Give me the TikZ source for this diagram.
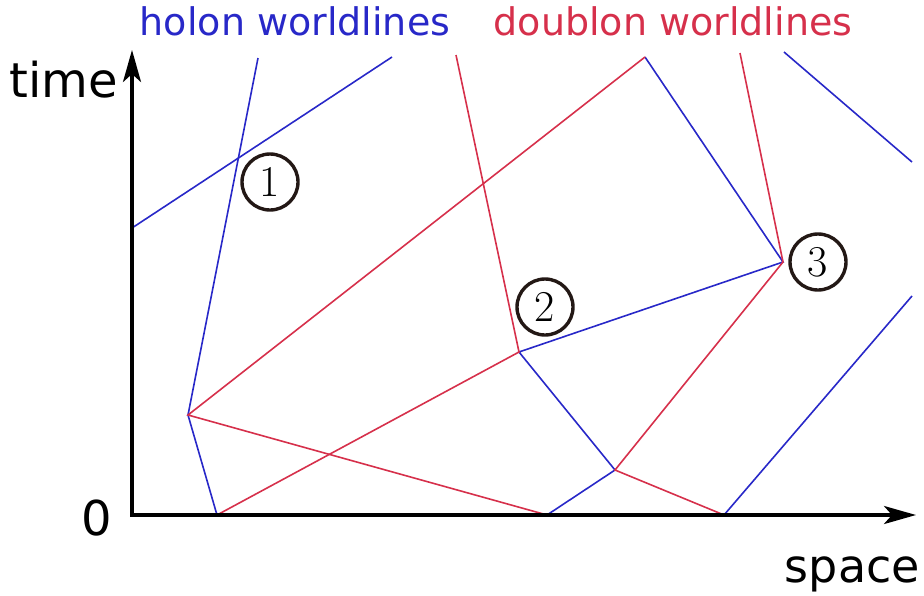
\documentclass[tikz,border=0pt]{standalone}
\usepackage{fontspec}
\newfontfamily\dejavu{DejaVu Sans}
\usetikzlibrary{arrows.meta}
\definecolor{holon}{RGB}{40,40,200}
\definecolor{doub}{RGB}{214,48,75}
\definecolor{ring}{RGB}{35,24,21}
\begin{document}
\begin{tikzpicture}[x=1pt,y=-1pt,
  wl/.style={line width=1.6pt},
  hol/.style={wl,draw=holon},
  dbl/.style={wl,draw=doub},
  axis/.style={line width=3.5pt,line join=miter,{Stealth[length=32pt,width=18pt,inset=8pt]}-{Stealth[length=32pt,width=18pt,inset=8pt]}},
  lbl/.style={font=\dejavu\fontsize{48}{52}\selectfont, inner sep=0pt},
  toplbl/.style={font=\dejavu\fontsize{38}{44}\selectfont, inner sep=0pt, anchor=base},
  num/.style={circle, draw=ring, line width=3.4pt, minimum size=56pt, inner sep=0pt, font=\fontsize{44}{44}\selectfont}]
\useasboundingbox (0,0) rectangle (924,595);
% points
\coordinate (A) at (188,415);
\coordinate (B) at (519,352);
\coordinate (C) at (783,262);
\coordinate (D) at (615,470);
\coordinate (P) at (645,57);
\coordinate (a0) at (217,515);
\coordinate (b0) at (547,515);
\coordinate (c0) at (724,515);
\coordinate (h1) at (258,58);
\coordinate (h2a) at (392,57);
\coordinate (h2b) at (132,228);
\coordinate (h3a) at (784,52);
\coordinate (h3b) at (912,162);
\coordinate (h4) at (912,296);
\coordinate (d1) at (456,55);
\coordinate (d2) at (740,53);
% axes
\coordinate (O) at (132,515);
\coordinate (Ytip) at (132,50);
\coordinate (Xtip) at (916,515);
% holon lines
\draw[hol] (h1) -- (A) -- (a0);
\draw[hol] (h2a) -- (h2b);
\draw[hol] (P) -- (C) -- (B) -- (D) -- (b0);
\draw[hol] (h3a) -- (h3b);
\draw[hol] (h4) -- (c0);
% doublon lines
\draw[dbl] (d1) -- (B) -- (a0);
\draw[dbl] (b0) -- (A) -- (P);
\draw[dbl] (d2) -- (C) -- (D) -- (c0);
% axes
\draw[axis] (Ytip) -- (O) -- (Xtip);
% labels
\node[toplbl, text=holon] (lh) at (295,35) {holon worldlines};
\node[toplbl, text=doub] (ld) at (673,35) {doublon worldlines};
\node[lbl, anchor=base west] (lt) at (9,97) {time};
\node[lbl, anchor=base] (l0) at (97,535) {0};
\node[lbl, anchor=base east, font=\dejavu\fontsize{46}{50}\selectfont] (ls) at (920,582) {space};
% numbers
\node[num] (n1) at (270,182) {1};
\node[num] (n2) at (545,307) {2};
\node[num] (n3) at (818,262) {3};
\end{tikzpicture}
\end{document}
